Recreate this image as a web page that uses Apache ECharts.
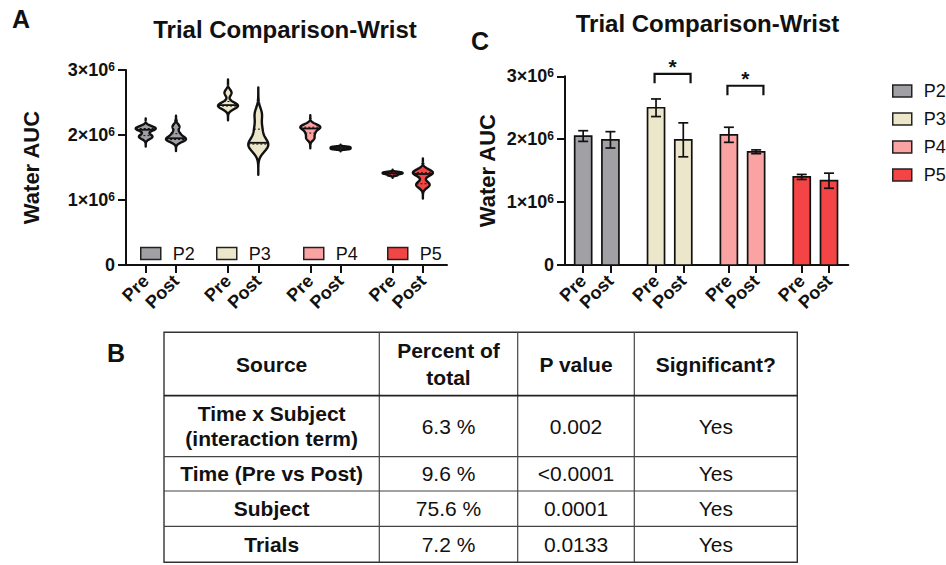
<!DOCTYPE html>
<html><head><meta charset="utf-8">
<script src="https://cdn.jsdelivr.net/npm/echarts@6/dist/echarts.min.js"></script>
<style>html,body{margin:0;padding:0;background:#fff}#main{width:946px;height:565px}</style>
</head><body><div id="main"></div>
<script>
// ---------------- data ----------------
const subjects = ['P2', 'P3', 'P4', 'P5'];
const timepoints = ['Pre', 'Post'];
// trial values (x10^6) per subject
const trialsPre  = [[2.10, 2.12, 2.08, 1.96, 1.99], [2.65, 2.45, 2.47, 2.43], [2.12, 2.10, 2.15, 1.95, 2.03], [1.40, 1.42, 1.38, 1.41, 1.43]];
const trialsPost = [[2.13, 1.92, 1.93, 1.95, 2.02], [2.32, 1.86, 1.80, 1.88, 2.09], [1.78, 1.80, 1.82, 1.81, 1.79], [1.42, 1.40, 1.44, 1.22, 1.25]];
// bar means and error (x10^6), panel C
const meanPre  = [2.05, 2.50, 2.07, 1.40];
const meanPost = [1.99, 1.99, 1.80, 1.34];
const errPre   = [0.085, 0.14, 0.12, 0.04];
const errPost  = [0.13, 0.27, 0.03, 0.12];
const yTicks = [0, 1, 2, 3];
// significance brackets, panel C
const sigGroups = [1, 2];
const sigLevels = [3.04, 2.85];
const sigMarks  = ['*', '*'];
// table, panel B
const tableHeader  = ['Source', 'Percent of\ntotal', 'P value', 'Significant?'];
const tableSource  = ['Time x Subject\n(interaction term)', 'Time (Pre vs Post)', 'Subject', 'Trials'];
const tablePercent = ['6.3 %', '9.6 %', '75.6 %', '7.2 %'];
const tableP       = ['0.002', '<0.0001', '0.0001', '0.0133'];
const tableSig     = ['Yes', 'Yes', 'Yes', 'Yes'];

// ---------------- styles ----------------
const FONT = "Arial, 'Liberation Sans', Helvetica, sans-serif";
const colors = ['#a1a0a5', '#ece7ca', '#fba3a3', '#f34545'];
const INK = '#111';
const offA = 0.184, offC = 0.187;

function xPos(g, t, off) { return g + (t === 0 ? -off : off); }
const xsA = [], xsC = [];
subjects.forEach((s, g) => timepoints.forEach((t, ti) => { xsA.push(xPos(g, ti, offA)); xsC.push(xPos(g, ti, offC)); }));
function tpLabel(xs) {
  return function (v) {
    let best = 0, bd = 1e9;
    xs.forEach((x, i) => { const d = Math.abs(x - v); if (d < bd) { bd = d; best = i; } });
    return timepoints[best % 2];
  };
}

function quantile(s, q) {
  const a = [...s].sort((x, y) => x - y);
  const pos = (a.length - 1) * q, lo = Math.floor(pos), hi = Math.ceil(pos);
  return a[lo] + (a[hi] - a[lo]) * (pos - lo);
}
function violinShape(s) {
  const n = s.length;
  const m = s.reduce((a, b) => a + b, 0) / n;
  const sd = Math.sqrt(s.reduce((a, b) => a + (b - m) * (b - m), 0) / (n - 1));
  const bwS = 1.06 * sd * Math.pow(n, -0.2);
  const bw = 0.6 * bwS;
  const lo = Math.min(...s) - 2.5 * bwS, hi = Math.max(...s) + 2.5 * bwS;
  const dens = v => s.reduce((a, x) => a + Math.exp(-0.5 * ((v - x) / bw) ** 2), 0);
  const pts = []; let dmax = 0;
  const N = 120;
  for (let i = 0; i <= N; i++) { const v = lo + (hi - lo) * i / N; const d = dens(v); pts.push([v, d]); if (d > dmax) dmax = d; }
  return { pts, dmax, dens, lo, hi };
}

function renderViolin(si, params, api) {
  const ti = params.dataIndex;
  const s = ti === 0 ? trialsPre[si] : trialsPost[si];
  const x = api.value(0);
  const sh = violinShape(s);
  const HW = 10;
  const cx = api.coord([x, 0])[0];
  const right = [], left = [];
  sh.pts.forEach(([v, d]) => {
    const y = api.coord([x, v])[1];
    const w = d / sh.dmax * HW;
    right.push([cx + w, y]); left.unshift([cx - w, y]);
  });
  const poly = [[cx, api.coord([x, sh.lo])[1]], ...right, [cx, api.coord([x, sh.hi])[1]], ...left];
  const children = [{
    type: 'polygon', shape: { points: poly },
    style: { fill: colors[si], stroke: INK, lineWidth: 2.4, lineJoin: 'round' }
  }];
  [[0.25, true], [0.5, false], [0.75, true]].forEach(([q, dashed]) => {
    const v = quantile(s, q);
    const w = sh.dens(v) / sh.dmax * HW;
    const y = api.coord([x, v])[1];
    children.push({
      type: 'line', shape: { x1: cx - w, y1: y, x2: cx + w, y2: y },
      style: { stroke: INK, lineWidth: dashed ? 1 : 1.8, lineDash: dashed ? [2, 2] : null }
    });
  });
  return { type: 'group', children };
}

function renderBar(si, params, api) {
  const x = api.value(0), m = api.value(1), e = api.value(2);
  const top = api.coord([x, m]), base = api.coord([x, 0]);
  const hi = api.coord([x, m + e]), lo = api.coord([x, m - e]);
  const BW = 17, CAP = 5;
  return {
    type: 'group', children: [
      { type: 'rect', shape: { x: top[0] - BW / 2, y: top[1], width: BW, height: base[1] - top[1] },
        style: { fill: colors[si], stroke: INK, lineWidth: 1.7 } },
      { type: 'line', shape: { x1: hi[0], y1: hi[1], x2: lo[0], y2: lo[1] }, style: { stroke: INK, lineWidth: 1.7 } },
      { type: 'line', shape: { x1: hi[0] - CAP, y1: hi[1], x2: hi[0] + CAP, y2: hi[1] }, style: { stroke: INK, lineWidth: 1.7 } },
      { type: 'line', shape: { x1: lo[0] - CAP, y1: lo[1], x2: lo[0] + CAP, y2: lo[1] }, style: { stroke: INK, lineWidth: 1.7 } }
    ]
  };
}

function renderSig(params, api) {
  const g = api.value(0), h = api.value(1);
  const p1 = api.coord([g - offC - 0.02, h]), p2 = api.coord([g + offC + 0.10, h]);
  const LEG = 9.5;
  return {
    type: 'group', children: [
      { type: 'polyline', shape: { points: [[p1[0], p1[1] + LEG], [p1[0], p1[1]], [p2[0], p2[1]], [p2[0], p2[1] + LEG]] },
        style: { stroke: INK, lineWidth: 2.2, fill: null } },
      { type: 'text', style: { text: sigMarks[params.dataIndex], x: (p1[0] + p2[0]) / 2, y: p1[1] - 7.5,
        align: 'center', verticalAlign: 'middle', fontSize: 21, fontWeight: 'bold', fontFamily: FONT, fill: INK } }
    ]
  };
}

const yLabel = {
  fontFamily: FONT, color: INK, margin: 11,
  formatter: v => v === 0 ? '{b|0}' : '{b|' + v + '×10}{s|6}',
  rich: {
    b: { fontSize: 18, fontWeight: 'bold', fontFamily: FONT, color: INK, lineHeight: 18 },
    s: { fontSize: 12, fontWeight: 'bold', fontFamily: FONT, color: INK, lineHeight: 12, verticalAlign: 'top' }
  }
};
function yAxisDef(gridIndex, nameGap) {
  return {
    type: 'value', gridIndex, min: 0, max: yTicks[yTicks.length - 1], interval: 1,
    name: 'Water AUC', nameLocation: 'middle', nameRotate: 90, nameGap,
    nameTextStyle: { fontFamily: FONT, fontSize: 22, fontWeight: 'bold', color: INK },
    axisLine: { show: true, onZero: false, lineStyle: { color: INK, width: 2 } },
    axisTick: { show: true, length: 8, lineStyle: { color: INK, width: 2 } },
    axisLabel: yLabel, splitLine: { show: false }
  };
}
function xAxisDef(gridIndex, min, max, xs) {
  return {
    type: 'value', gridIndex, min, max,
    axisLine: { show: true, onZero: false, lineStyle: { color: INK, width: 2 } },
    axisTick: { show: true, length: 8, customValues: xs, lineStyle: { color: INK, width: 2 } },
    axisLabel: { customValues: xs, formatter: tpLabel(xs), rotate: 45, margin: 13,
      fontFamily: FONT, fontSize: 18, fontWeight: 'bold', color: INK },
    splitLine: { show: false }
  };
}

const series = [];
subjects.forEach((name, si) => {
  series.push({
    type: 'custom', name, xAxisIndex: 0, yAxisIndex: 0, clip: false,
    itemStyle: { color: colors[si] },
    encode: { x: 0, y: 1 },
    data: [[xPos(si, 0, offA), quantile(trialsPre[si], 0.5)], [xPos(si, 1, offA), quantile(trialsPost[si], 0.5)]],
    renderItem: (p, a) => renderViolin(si, p, a)
  });
});
subjects.forEach((name, si) => {
  series.push({
    type: 'custom', name, xAxisIndex: 1, yAxisIndex: 1, clip: false,
    itemStyle: { color: colors[si] },
    encode: { x: 0, y: 1 },
    data: [[xPos(si, 0, offC), meanPre[si], errPre[si]], [xPos(si, 1, offC), meanPost[si], errPost[si]]],
    renderItem: (p, a) => renderBar(si, p, a)
  });
});
series.push({
  type: 'custom', xAxisIndex: 1, yAxisIndex: 1, clip: false, silent: true,
  encode: { x: 0, y: 1 },
  data: sigGroups.map((g, k) => [g, sigLevels[k]]),
  renderItem: renderSig
});

const legendText = { fontFamily: FONT, fontSize: 18, color: INK, lineHeight: 18 };
const legendA = subjects.map((name, si) => ({
  left: [140, 216, 303, 387][si], top: 244.5, orient: 'horizontal', padding: 0,
  icon: 'rect', itemWidth: 20, itemHeight: 12,
  textStyle: Object.assign({ padding: [0, 0, 0, 7] }, legendText),
  data: [{ name, itemStyle: { color: colors[si], borderColor: '#222', borderWidth: 1.5 } }],
  selectedMode: false
}));
const legendC = {
  left: 892, top: 82, orient: 'vertical', padding: 0, itemGap: 10,
  icon: 'rect', itemWidth: 19, itemHeight: 12,
  textStyle: Object.assign({ padding: [0, 0, 0, 7] }, legendText),
  data: subjects.map((name, si) => ({ name, itemStyle: { color: colors[si], borderColor: '#222', borderWidth: 1.5 } })),
  selectedMode: false
};

// ---------------- table (panel B) ----------------
const colEdges = [164, 379.3, 517.7, 634.3, 797.3];
const rowEdges = [332.3, 395.7, 456.7, 491, 526.3, 562.3];
const graphics = [];
graphics.push({ type: 'rect', shape: { x: colEdges[0], y: rowEdges[0], width: colEdges[4] - colEdges[0], height: rowEdges[5] - rowEdges[0] },
  style: { fill: 'none', stroke: '#333', lineWidth: 1.4 } });
colEdges.slice(1, -1).forEach(x => graphics.push({ type: 'line', shape: { x1: x, y1: rowEdges[0], x2: x, y2: rowEdges[5] }, style: { stroke: '#444', lineWidth: 1.2 } }));
rowEdges.slice(1, -1).forEach((y, i) => graphics.push({ type: 'line', shape: { x1: colEdges[0], y1: y, x2: colEdges[4], y2: y },
  style: { stroke: i === 0 ? '#222' : '#444', lineWidth: i === 0 ? 1.8 : 1.2 } }));
function cell(text, c, r, bold) {
  graphics.push({ type: 'text', x: (colEdges[c] + colEdges[c + 1]) / 2, y: (rowEdges[r] + rowEdges[r + 1]) / 2,
    style: { text, align: 'center', verticalAlign: 'middle', fontFamily: FONT, fontSize: 21,
      fontWeight: bold ? 'bold' : 'normal', lineHeight: r === 0 ? 27 : 25, fill: INK } });
}
tableHeader.forEach((t, c) => cell(t, c, 0, true));
tableSource.forEach((t, r) => cell(t, 0, r + 1, true));
tablePercent.forEach((t, r) => cell(t, 1, r + 1, false));
tableP.forEach((t, r) => cell(t, 2, r + 1, false));
tableSig.forEach((t, r) => cell(t, 3, r + 1, false));
// panel letters
[['A', 12, 19], ['B', 107, 352.5], ['C', 471, 41]].forEach(([t, x, y]) => graphics.push({
  type: 'text', x, y, style: { text: t, align: 'left', verticalAlign: 'middle', fontFamily: FONT, fontSize: 25, fontWeight: 'bold', fill: INK } }));

const option = {
  animation: false,
  backgroundColor: '#fff',
  title: [
    { text: 'Trial Comparison-Wrist', left: 285, top: 17, textAlign: 'center', padding: 0,
      textStyle: { fontFamily: FONT, fontSize: 24, fontWeight: 'bold', color: INK } },
    { text: 'Trial Comparison-Wrist', left: 707.5, top: 11, textAlign: 'center', padding: 0,
      textStyle: { fontFamily: FONT, fontSize: 24, fontWeight: 'bold', color: INK } }
  ],
  grid: [
    { left: 126, top: 70, width: 321, height: 195, containLabel: false, outerBoundsMode: 'none' },
    { left: 565, top: 76.3, width: 283.3, height: 188.7, containLabel: false, outerBoundsMode: 'none' }
  ],
  xAxis: [xAxisDef(0, -0.4235, 3.477, xsA), xAxisDef(1, -0.4365, 3.452, xsC)],
  yAxis: [yAxisDef(0, 84), yAxisDef(1, 67)],
  legend: legendA.concat([legendC]),
  series,
  graphic: graphics
};

const chart = echarts.init(document.getElementById('main'), null, { renderer: 'svg' });
chart.setOption(option);
</script>
</body></html>
